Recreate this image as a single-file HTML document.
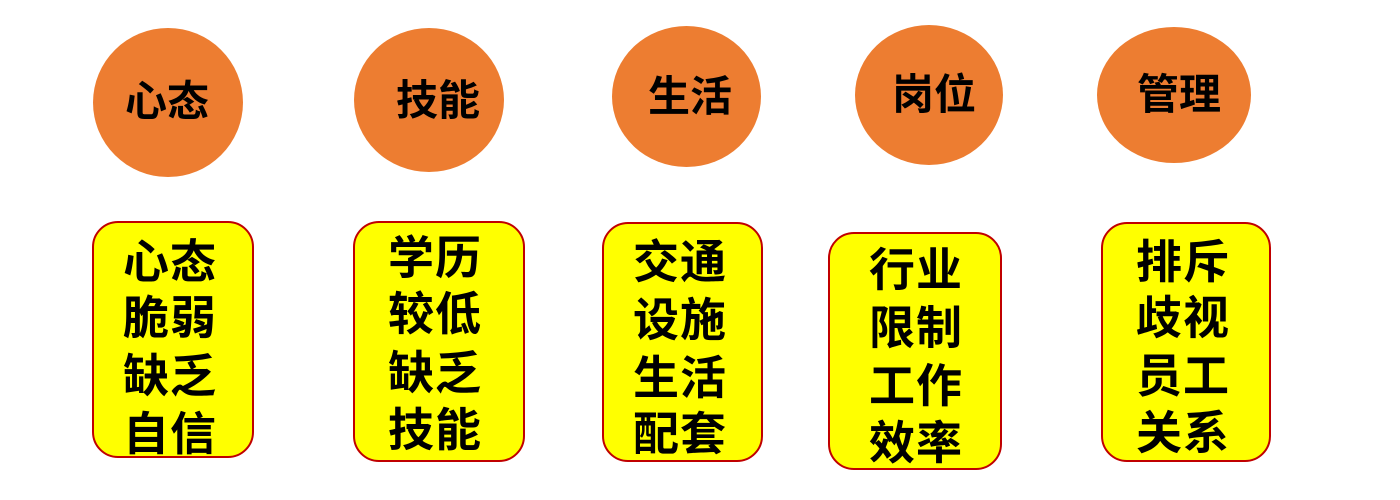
<!DOCTYPE html>
<html><head><meta charset="utf-8"><style>
body{margin:0;width:1400px;height:500px;background:#fff;position:relative;overflow:hidden;font-family:"Liberation Sans","Noto Sans CJK SC",sans-serif;font-weight:bold;color:#000}
.c{position:absolute;background:#ED7D31;border-radius:50%}
.ct{position:absolute;font-size:42px;line-height:42px;white-space:nowrap;transform:translate(-50%,-50%)}
.b{position:absolute;background:#FFFF00;border:2.5px solid #C00000;border-radius:26px;box-sizing:border-box;overflow:hidden}
.t{position:absolute;font-size:46px;line-height:46px;white-space:nowrap;transform:translate(-50%,-50%);letter-spacing:1px}
</style></head><body>
<div class="c" style="left:93px;top:28px;width:150px;height:149px"></div>
<div class="c" style="left:354px;top:28px;width:150px;height:144px"></div>
<div class="c" style="left:612px;top:26px;width:149px;height:141px"></div>
<div class="c" style="left:855px;top:25px;width:148px;height:140px"></div>
<div class="c" style="left:1097px;top:27px;width:154px;height:136px"></div>
<div class="ct" style="left:167px;top:102px">心态</div>
<div class="ct" style="left:438px;top:101px">技能</div>
<div class="ct" style="left:690px;top:97px">生活</div>
<div class="ct" style="left:934px;top:95px">岗位</div>
<div class="ct" style="left:1179px;top:95px">管理</div>

<div class="b" style="left:92px;top:221px;width:162px;height:237px"></div>
<div class="b" style="left:353px;top:221px;width:172px;height:241px"></div>
<div class="b" style="left:602px;top:222px;width:161px;height:240px"></div>
<div class="b" style="left:828px;top:232px;width:174px;height:238px"></div>
<div class="b" style="left:1101px;top:222px;width:170px;height:240px"></div>

<div class="t" style="left:170px;top:262px">心态</div>
<div class="t" style="left:170px;top:318px">脆弱</div>
<div class="t" style="left:170px;top:376px">缺乏</div>
<div class="t" style="left:170px;top:434px">自信</div>

<div class="t" style="left:435px;top:258px">学历</div>
<div class="t" style="left:435px;top:314px">较低</div>
<div class="t" style="left:435px;top:373px">缺乏</div>
<div class="t" style="left:435px;top:430px">技能</div>

<div class="t" style="left:680px;top:262px">交通</div>
<div class="t" style="left:680px;top:320px">设施</div>
<div class="t" style="left:680px;top:378px">生活</div>
<div class="t" style="left:680px;top:434px">配套</div>

<div class="t" style="left:916px;top:270px">行业</div>
<div class="t" style="left:916px;top:328px">限制</div>
<div class="t" style="left:916px;top:386px">工作</div>
<div class="t" style="left:916px;top:443px">效率</div>

<div class="t" style="left:1183px;top:262px">排斥</div>
<div class="t" style="left:1183px;top:318px">歧视</div>
<div class="t" style="left:1183px;top:376px">员工</div>
<div class="t" style="left:1183px;top:433px">关系</div>
</body></html>
